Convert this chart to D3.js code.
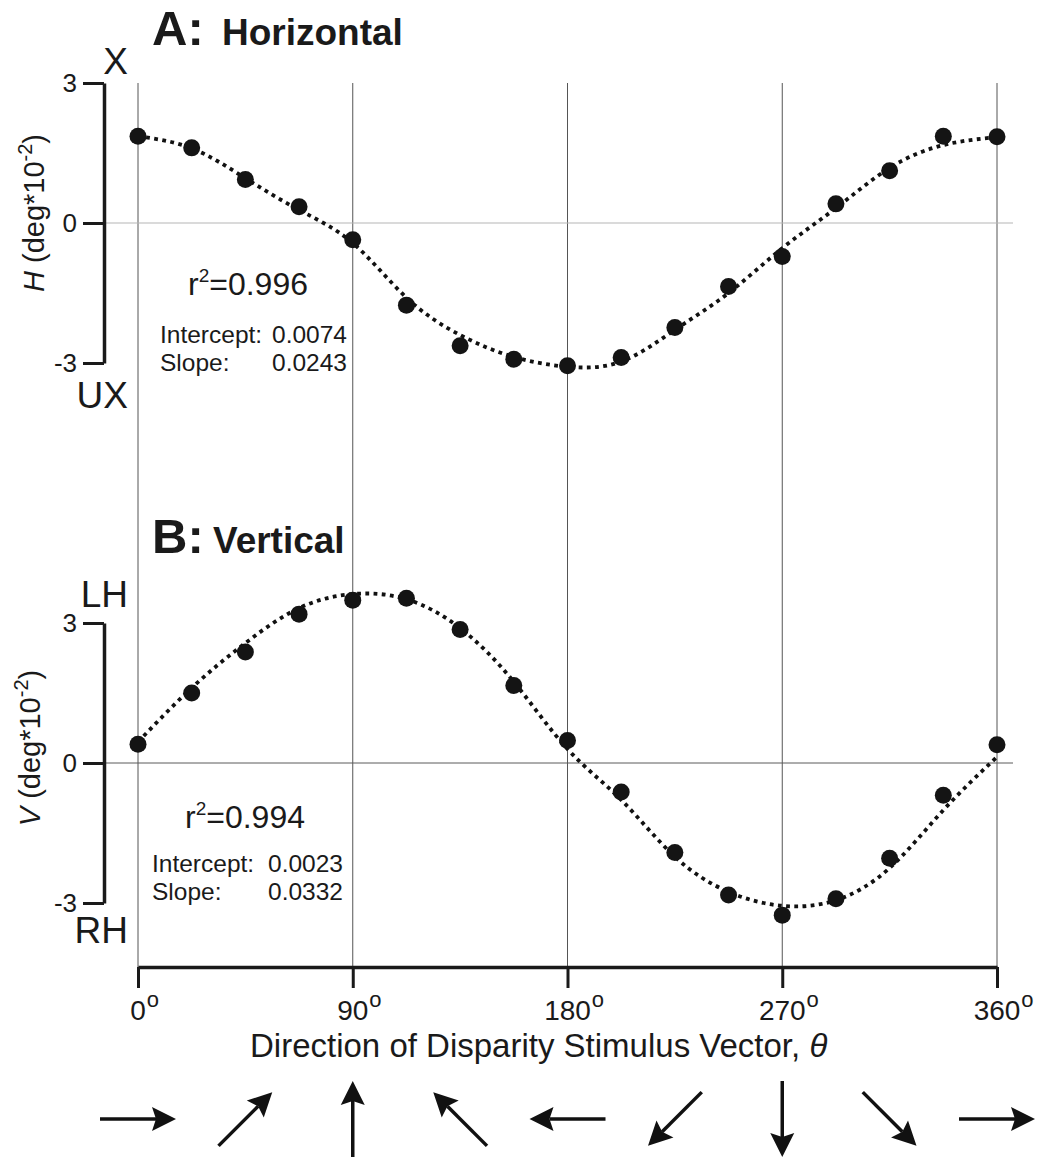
<!DOCTYPE html>
<html>
<head>
<meta charset="utf-8">
<script src="https://cdn.jsdelivr.net/npm/d3@7"></script>
<style>
  body { margin: 0; background: #fff; }
  text { font-family: "Liberation Sans", Arial, Helvetica, sans-serif; fill: #1a1a1a; }
</style>
</head>
<body>
<svg id="chart" width="1041" height="1159"></svg>
<script>
// direction of disparity stimulus vector (deg)
var angles = [0, 22.5, 45, 67.5, 90, 112.5, 135, 157.5, 180, 202.5, 225, 247.5, 270, 292.5, 315, 337.5, 360]
// measured responses (deg*10^-2)
var horizVals = [1.86, 1.61, 0.93, 0.35, -0.36, -1.76, -2.63, -2.92, -3.06, -2.88, -2.24, -1.36, -0.72, 0.41, 1.12, 1.86, 1.85]
var vertVals = [0.40, 1.50, 2.38, 3.19, 3.49, 3.53, 2.86, 1.66, 0.48, -0.62, -1.92, -2.83, -3.26, -2.91, -2.04, -0.69, 0.39]
// fitted curve at the same angles
var horizFit = [1.86, 1.60, 0.96, 0.28, -0.43, -1.60, -2.40, -2.87, -3.08, -2.97, -2.29, -1.50, -0.54, 0.32, 1.18, 1.67, 1.84]
var vertFit = [0.45, 1.61, 2.57, 3.32, 3.62, 3.51, 2.89, 1.74, 0.30, -0.79, -2.01, -2.76, -3.06, -2.94, -2.25, -1.01, 0.13]

var gridTicks = [0, 90, 180, 270, 360]
var yTicks = [-3, 0, 3]
var arrowAngles = [0, 45, 90, 135, 180, 225, 270, 315, 360]

var panels = [
  { title: 'A:', name: 'Horizontal', vals: horizVals, fit: horizFit, letter: 'H',
    top: 'X', bottom: 'UX', r2: '0.996', intercept: '0.0074', slope: '0.0243' },
  { title: 'B:', name: 'Vertical', vals: vertVals, fit: vertFit, letter: 'V',
    top: 'LH', bottom: 'RH', r2: '0.994', intercept: '0.0023', slope: '0.0332' }
]

var svg = d3.select('#chart')
var x = d3.scaleLinear().domain([0, 360]).range([138, 997])
var yA = d3.scaleLinear().domain([-3, 3]).range([363, 83])
var yB = d3.scaleLinear().domain([-3, 3]).range([903, 623])
var ys = [yA, yB]

// layout for each panel
var lay = [
  { titleY: 45, nameX: 222, zeroStroke: '#b5b5b5', yTitleX: 44, yTitleY: 213,
    topY: 74, botY: 408, r2X: 188, r2Y: 295, txtX: 160, valX: 347, intY: 343, slpY: 371 },
  { titleY: 553, nameX: 213, zeroStroke: '#5a5a5a', yTitleX: 40, yTitleY: 748,
    topY: 607, botY: 943, r2X: 185, r2Y: 828, txtX: 152, valX: 343, intY: 872, slpY: 900 }
]

// vertical grid lines through both panels
svg.selectAll('line.grid')
  .data(gridTicks)
  .enter()
  .append('line')
  .attr('class', 'grid')
  .attr('x1', function (d) { return x(d) })
  .attr('x2', function (d) { return x(d) })
  .attr('y1', 83)
  .attr('y2', 967)
  .style('stroke', '#555')
  .style('stroke-width', 1)

panels.forEach(function (p, i) {
  var y = ys[i]
  var L = lay[i]
  var g = svg.append('g')

  // zero line
  g.append('line')
    .attr('x1', 104).attr('x2', 1013)
    .attr('y1', y(0)).attr('y2', y(0))
    .style('stroke', L.zeroStroke)
    .style('stroke-width', 1)

  // y axis
  var ax = g.append('g')
    .attr('transform', 'translate(104,0)')
    .call(d3.axisLeft(y).tickValues(yTicks).tickSize(21).tickSizeOuter(0).tickPadding(6)
      .tickFormat(function (d) { return d === 0 ? '0' : (d > 0 ? '3' : '-3') }))
  ax.select('.domain').style('stroke', '#1a1a1a').style('stroke-width', 3.5)
  ax.selectAll('.tick line').style('stroke', '#1a1a1a').style('stroke-width', 3)
  ax.selectAll('.tick text')
    .style('font-size', '26px')
    .style('fill', '#1a1a1a')
    .style('font-family', '"Liberation Sans", Arial, sans-serif')

  // X / UX etc
  g.append('text').attr('x', 128).attr('y', L.topY)
    .attr('text-anchor', 'end').style('font-size', '37px').text(p.top)
  g.append('text').attr('x', 128).attr('y', L.botY)
    .attr('text-anchor', 'end').style('font-size', '37px').text(p.bottom)

  // y axis title
  var yt = g.append('text')
    .attr('transform', 'translate(' + L.yTitleX + ',' + L.yTitleY + ') rotate(-90)')
    .attr('text-anchor', 'middle')
    .style('font-size', '29px')
  yt.append('tspan').style('font-style', 'italic').text(p.letter)
  yt.append('tspan').text(' (deg*10')
  yt.append('tspan').attr('dy', -12).style('font-size', '20px').text('-2')
  yt.append('tspan').attr('dy', 12).text(')')

  // panel title
  var tt = g.append('text').attr('x', 152).attr('y', L.titleY)
    .style('font-weight', 'bold')
  tt.append('tspan').style('font-size', '49px').text(p.title)
  tt.append('tspan').attr('x', L.nameX).style('font-size', '37px').text(p.name)

  // fitted curve
  var line = d3.line()
    .x(function (d, j) { return x(angles[j]) })
    .y(function (d) { return y(d) })
    .curve(d3.curveNatural)
  g.append('path')
    .datum(p.fit)
    .attr('d', line)
    .style('fill', 'none')
    .style('stroke', '#111')
    .style('stroke-width', 3.8)
    .style('stroke-dasharray', '3.8,4.4')

  // data points
  g.selectAll('circle')
    .data(p.vals)
    .enter()
    .append('circle')
    .attr('cx', function (d, j) { return x(angles[j]) })
    .attr('cy', function (d) { return y(d) })
    .attr('r', 8.5)
    .style('fill', '#141414')

  // stats
  var r2 = g.append('text').attr('x', L.r2X).attr('y', L.r2Y).style('font-size', '32px')
  r2.append('tspan').text('r')
  r2.append('tspan').attr('dy', -13).style('font-size', '19px').text('2')
  r2.append('tspan').attr('dy', 13).text('=' + p.r2)

  g.append('text').attr('x', L.txtX).attr('y', L.intY).style('font-size', '24.5px').text('Intercept:')
  g.append('text').attr('x', L.valX).attr('y', L.intY).attr('text-anchor', 'end').style('font-size', '24.5px').text(p.intercept)
  g.append('text').attr('x', L.txtX).attr('y', L.slpY).style('font-size', '24.5px').text('Slope:')
  g.append('text').attr('x', L.valX).attr('y', L.slpY).attr('text-anchor', 'end').style('font-size', '24.5px').text(p.slope)
})

// x axis
var xa = svg.append('g')
  .attr('transform', 'translate(0,967)')
  .call(d3.axisBottom(x).tickValues(gridTicks).tickSize(21).tickSizeOuter(0).tickFormat(''))
xa.select('.domain').style('stroke', '#1a1a1a').style('stroke-width', 3.5)
xa.selectAll('.tick line').style('stroke', '#1a1a1a').style('stroke-width', 3)

var tl = svg.selectAll('g.xlab')
  .data(gridTicks)
  .enter()
  .append('g')
  .attr('class', 'xlab')
tl.append('text')
  .attr('class', 'num')
  .attr('x', function (d) { return x(d) })
  .attr('y', 1020)
  .attr('text-anchor', 'middle')
  .style('font-size', '28px')
  .text(function (d) { return d })
tl.each(function (d) {
  var t = d3.select(this).select('text.num').node()
  var w = t.getComputedTextLength()
  d3.select(this).append('text')
    .attr('x', x(d) + w / 2 + 1)
    .attr('y', 1007)
    .style('font-size', '22px')
    .text('o')
})

var xt = svg.append('text').attr('x', 250).attr('y', 1057).style('font-size', '33px')
xt.append('tspan').text('Direction of Disparity Stimulus Vector, ')
xt.append('tspan').style('font-style', 'italic').text('\u03b8')

// direction arrows
var arrowY = 1119
var arrowLen = 76
var headLen = 24
var headHalf = 12
svg.selectAll('g.arrow')
  .data(arrowAngles)
  .enter()
  .append('g')
  .attr('class', 'arrow')
  .each(function (a) {
    var r = a * Math.PI / 180
    var dx = Math.cos(r), dy = -Math.sin(r)
    var cx = x(a), cy = arrowY
    var tx = cx - dx * arrowLen / 2, ty = cy - dy * arrowLen / 2
    var hx = cx + dx * arrowLen / 2, hy = cy + dy * arrowLen / 2
    var bx = hx - dx * headLen, by = hy - dy * headLen
    var nx = hx - dx * (headLen - 4), ny = hy - dy * (headLen - 4)
    var px = -dy, py = dx
    var sel = d3.select(this)
    sel.append('line')
      .attr('x1', tx).attr('y1', ty)
      .attr('x2', nx).attr('y2', ny)
      .style('stroke', '#111')
      .style('stroke-width', 3.5)
    sel.append('path')
      .attr('d', 'M' + hx + ',' + hy +
        'L' + (bx + px * headHalf) + ',' + (by + py * headHalf) +
        'L' + nx + ',' + ny +
        'L' + (bx - px * headHalf) + ',' + (by - py * headHalf) + 'Z')
      .style('fill', '#111')
  })
</script>
</body>
</html>
